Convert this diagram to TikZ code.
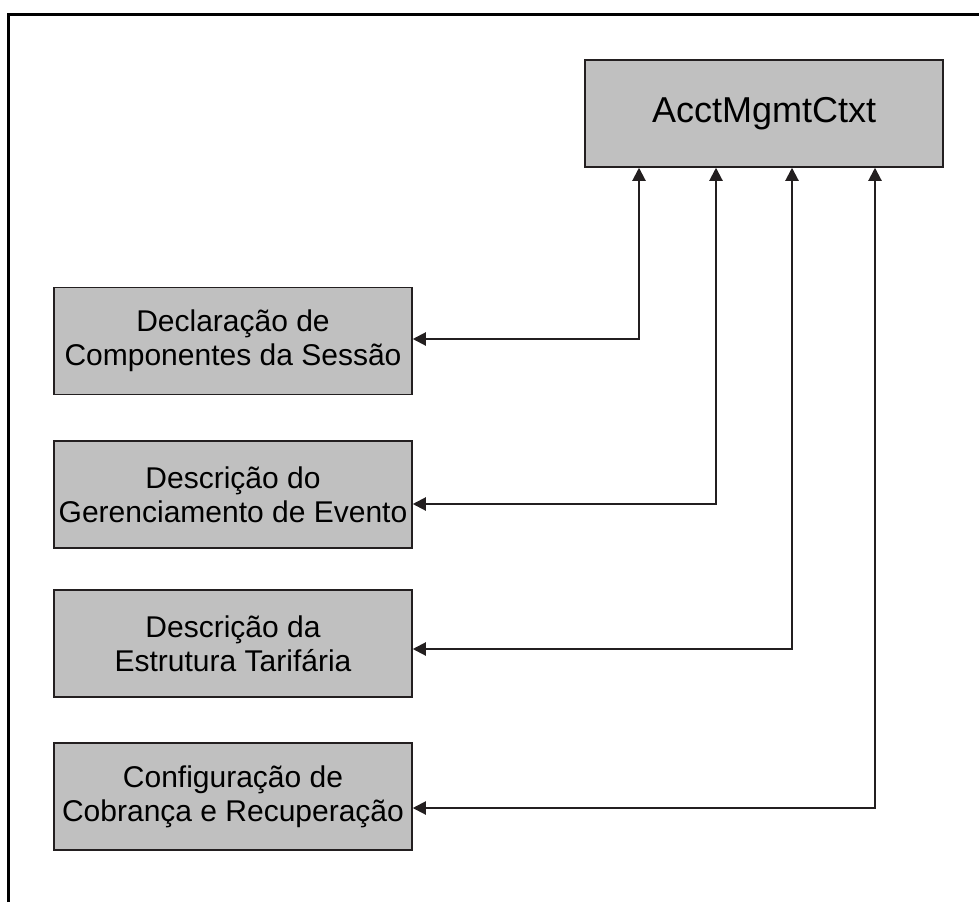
\documentclass[tikz,border=0pt]{standalone}
\usepackage{fontspec}
\setmainfont{Liberation Sans}
\usepackage{xcolor}
\usetikzlibrary{arrows.meta}
\definecolor{boxgray}{RGB}{192,192,192}
\definecolor{inkdark}{RGB}{35,31,32}

\begin{document}
\begin{tikzpicture}[x=1pt, y=-1pt,
	blockbox/.style={draw=inkdark, line width=1.5pt, fill=boxgray, minimum width=358pt, minimum height=107pt, inner sep=0pt, align=center, font=\fontsize{30}{34}\selectfont},
	link/.style={draw=inkdark, line width=2pt, {Triangle[length=13pt,width=13pt]}-{Triangle[length=13pt,width=13pt]}}]
	\useasboundingbox (0,0) rectangle (979,902);
	\draw[line width=3pt] (8,902) -- (8,14) -- (979,14);
	\node[blockbox, font=\fontsize{36}{40}\selectfont] (ctxt) at (764,113.5) {AcctMgmtCtxt};
	\node[blockbox] (decl) at (233,341) {Declaração de\\Componentes da Sessão};
	\node[blockbox] (evnt) at (233,494.5) {Descrição do\\Gerenciamento de Evento};
	\node[blockbox] (tarif) at (233,643.5) {Descrição da\\Estrutura Tarifária};
	\node[blockbox] (cobr) at (233,796.5) {Configuração de\\Cobrança e Recuperação};
	\draw[link] ([yshift=2pt]decl.east) -| ([xshift=-125pt]ctxt.south);
	\draw[link] ([yshift=-9.5pt]evnt.east) -| ([xshift=-48pt]ctxt.south);
	\draw[link] ([yshift=-5.5pt]tarif.east) -| ([xshift=28pt]ctxt.south);
	\draw[link] ([yshift=-11.5pt]cobr.east) -| ([xshift=111pt]ctxt.south);
\end{tikzpicture}
\end{document}
